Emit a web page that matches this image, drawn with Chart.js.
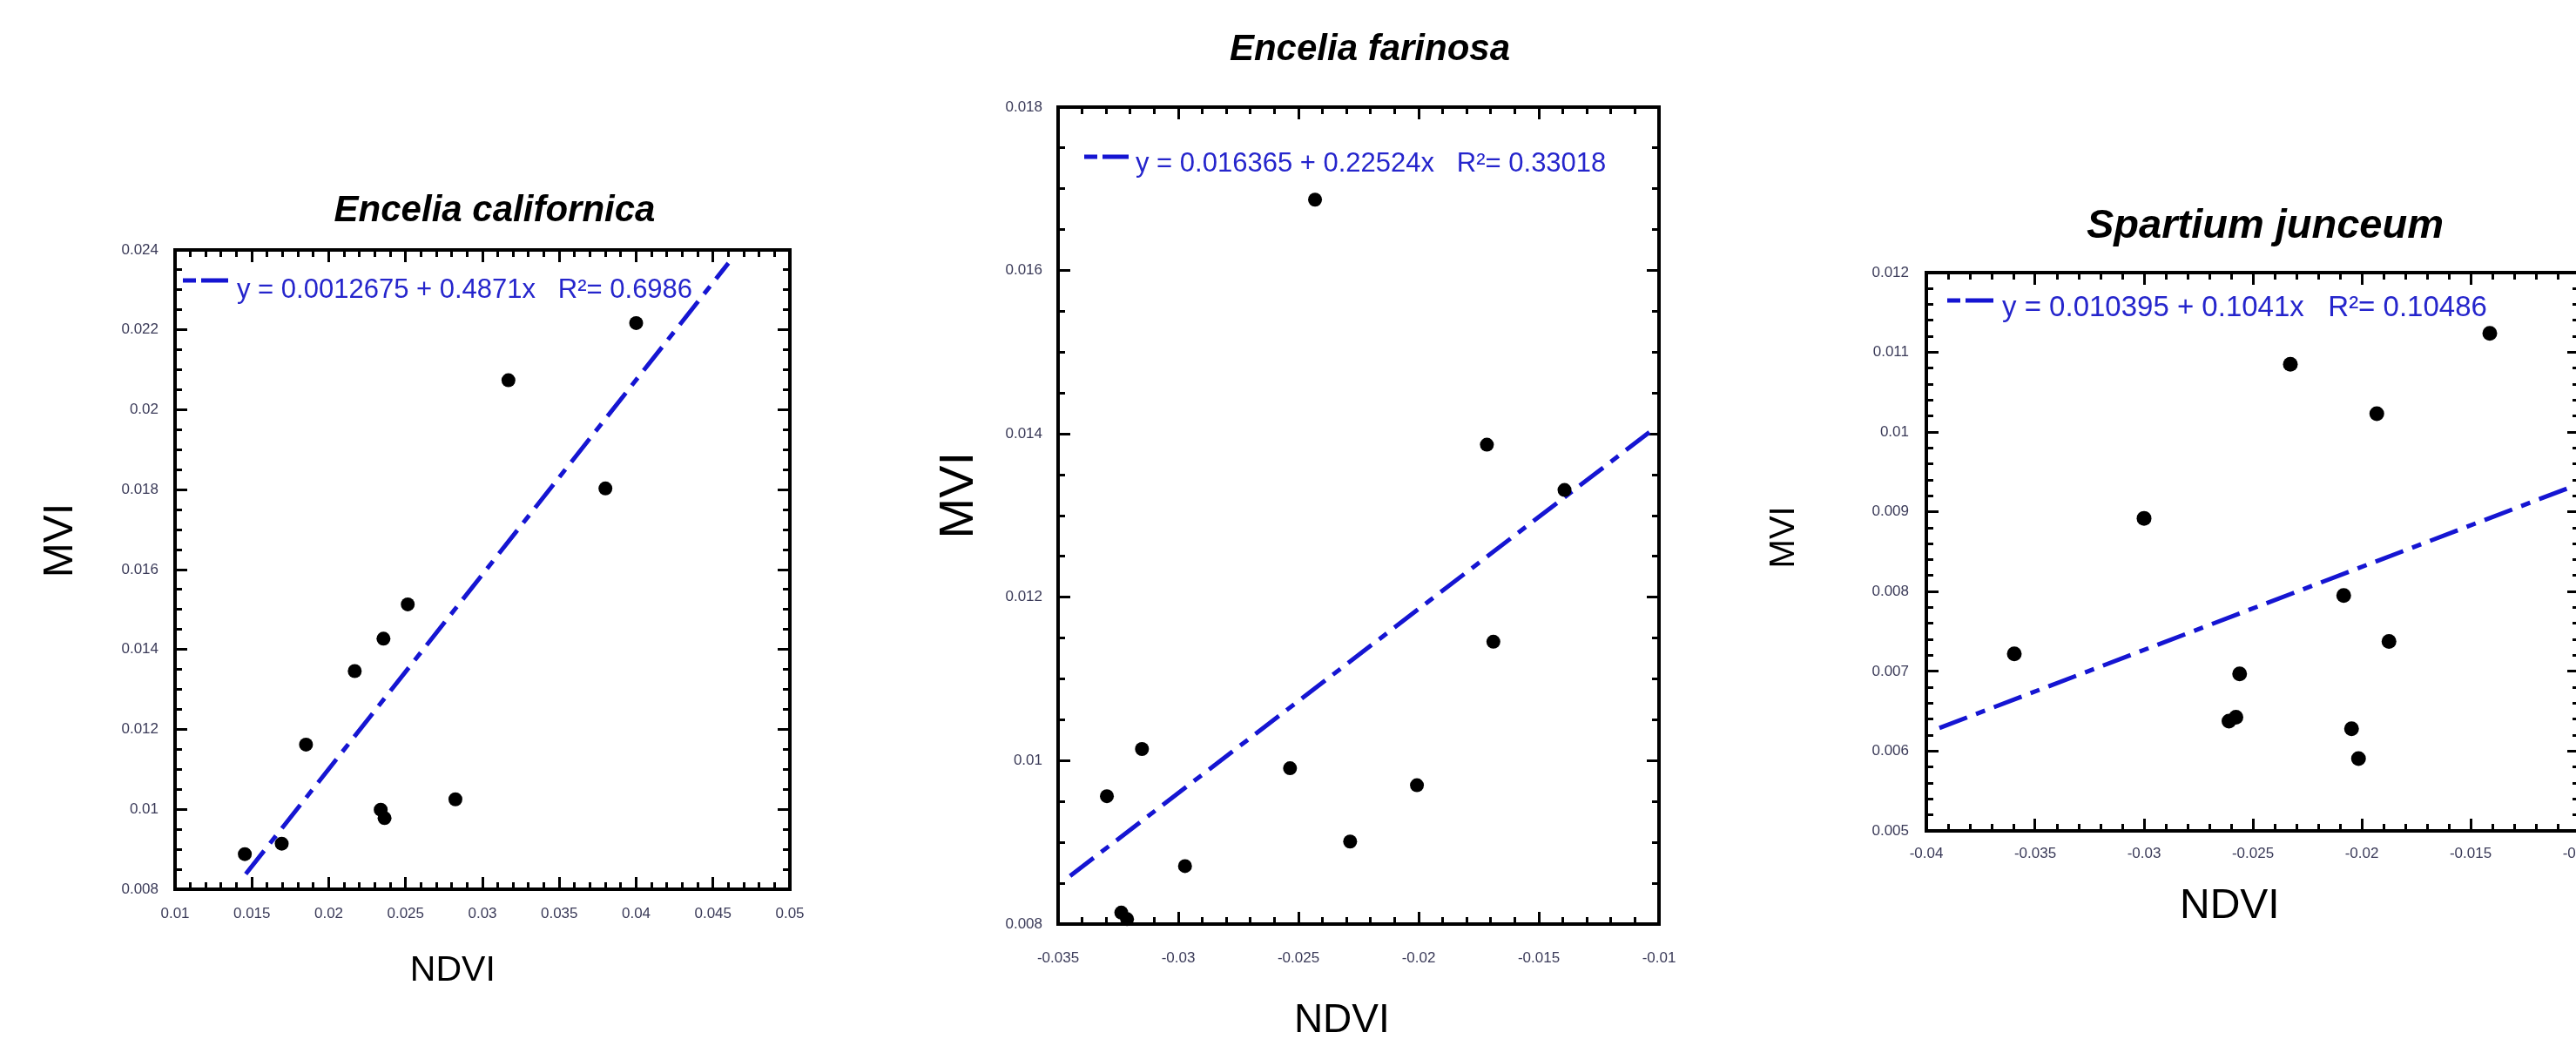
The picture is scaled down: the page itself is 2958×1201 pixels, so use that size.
<!DOCTYPE html>
<html>
<head>
<meta charset="utf-8">
<title>MVI vs NDVI</title>
<script src="https://cdn.jsdelivr.net/npm/chart.js@4.4.1/dist/chart.umd.min.js"></script>
<style>
  html, body { margin: 0; padding: 0; background: #fff; overflow: hidden; }
  body { width: 2958px; height: 1201px; position: relative; }
  canvas { position: absolute; top: 0; }
</style>
</head>
<body>
<canvas id="c1" width="1136" height="1201" style="left:0px"></canvas>
<canvas id="c2" width="1146" height="1201" style="left:1000px"></canvas>
<canvas id="c3" width="1222" height="1201" style="left:1990px"></canvas>
<script>
// Encelia californica
const calX = [0.01454, 0.01694, 0.01852, 0.02169, 0.02356, 0.02514, 0.02338, 0.02363, 0.02824, 0.03169, 0.0380, 0.0400];
const calY = [0.00888, 0.00914, 0.01162, 0.01346, 0.01427, 0.01513, 0.00999, 0.00978, 0.01025, 0.02074, 0.01803, 0.02217];
const calFitX = [0.0146, 0.046];
const calFitY = [0.00838, 0.02367];
const calXTicks = [0.01, 0.05, 0.005, 0.001];      // min, max, major step, minor step
const calYTicks = [0.008, 0.024, 0.002, 0.0005];

// Encelia farinosa
const farX = [-0.03297, -0.03151, -0.03237, -0.03213, -0.02972, -0.02535, -0.02431, -0.02285, -0.02007, -0.01716, -0.01689, -0.01393];
const farY = [0.009565, 0.010143, 0.00814, 0.00806, 0.00871, 0.009907, 0.016867, 0.00901, 0.0097, 0.013868, 0.011456, 0.013314];
const farFitX = [-0.0345, -0.0104];
const farFitY = [0.00859, 0.01402];
const farXTicks = [-0.035, -0.01, 0.005, 0.001];
const farYTicks = [0.008, 0.018, 0.002, 0.0005];

// Spartium junceum
const spaX = [-0.03596, -0.0300, -0.0261, -0.02578, -0.02561, -0.02328, -0.02083, -0.02047, -0.02015, -0.01931, -0.01875, -0.01412];
const spaY = [0.007219, 0.008919, 0.006375, 0.006425, 0.006969, 0.01085, 0.00795, 0.006281, 0.005906, 0.010231, 0.007375, 0.011238];
const spaFitX = [-0.0394, -0.0104];
const spaFitY = [0.00629, 0.00931];
const spaXTicks = [-0.04, -0.01, 0.005, 0.001];
const spaYTicks = [0.005, 0.012, 0.001, 0.0002];

const FONT = "'Liberation Sans', Arial, Helvetica, sans-serif";
const FIT_BLUE = "#1515d2";
const KEY_BLUE = "#2525cc";
const TICK_COLOR = "#3a3a58";

function tickFormat(v) {
  return String(parseFloat(Number(v).toFixed(4)));
}

// draws the fit equation with a sample of the dash-dot line inside the frame
const fitKey = {
  id: "fitKey",
  afterDatasetsDraw(chart, args, opts) {
    const ds = chart.data.datasets[1];
    const { left, top } = chart.chartArea;
    const ctx = chart.ctx;
    ctx.save();
    ctx.strokeStyle = ds.borderColor;
    ctx.lineWidth = ds.borderWidth;
    ctx.setLineDash([15, 6, 40]);
    ctx.beginPath();
    ctx.moveTo(left + opts.lineX[0], top + opts.lineY);
    ctx.lineTo(left + opts.lineX[1], top + opts.lineY);
    ctx.stroke();
    ctx.setLineDash([]);
    ctx.fillStyle = KEY_BLUE;
    ctx.font = opts.size + "px " + FONT;
    ctx.textBaseline = "middle";
    ctx.textAlign = "left";
    ctx.fillText(ds.label, left + opts.textX, top + opts.textY);
    ctx.restore();
  }
};

function buildChart(canvasId, p) {
  const pts = p.xs.map((x, i) => ({ x: x, y: p.ys[i] }));
  const fit = p.fitX.map((x, i) => ({ x: x, y: p.fitY[i] }));
  const fixW = w => s => { s.width = w; };
  const fixH = h => s => { s.height = h; };

  // one frame side; major ones carry the border, minor ones only short ticks
  const side = (axis, position, range, major, fitter) => ({
    type: "linear",
    axis: axis,
    position: position,
    min: range[0],
    max: range[1],
    weight: major ? 1 : 0,
    border: { display: major, color: "#000", width: 4 },
    grid: {
      drawOnChartArea: false,
      drawTicks: true,
      tickLength: -(major ? p.majorLen : p.minorLen),
      tickWidth: 3,
      tickColor: "#000"
    },
    ticks: { display: false, stepSize: major ? range[2] : range[3] },
    afterFit: fitter
  });

  const x = side("x", "bottom", p.xRange, true, fixH(p.xAxisH));
  x.ticks = {
    display: true, stepSize: p.xRange[2], autoSkip: false, maxRotation: 0,
    padding: p.xLabelPad, color: TICK_COLOR, font: { family: FONT, size: 17 },
    callback: tickFormat
  };
  x.title = {
    display: true, text: p.xTitle, color: "#000",
    font: { family: FONT, size: p.xTitleSize }, padding: { top: 0, bottom: p.xTitlePad }
  };

  const y = side("y", "left", p.yRange, true, fixW(p.yAxisW));
  y.ticks = {
    display: true, stepSize: p.yRange[2], autoSkip: false,
    padding: p.yLabelPad, color: TICK_COLOR, font: { family: FONT, size: 17 },
    callback: tickFormat
  };
  y.title = {
    display: true, text: p.yTitle, color: "#000",
    font: { family: FONT, size: p.yTitleSize }, padding: { top: p.yTitlePad, bottom: 0 }
  };

  return new Chart(document.getElementById(canvasId), {
    type: "scatter",
    data: {
      datasets: [
        {
          label: "data",
          data: pts,
          xAxisID: "x",
          yAxisID: "y",
          pointRadius: p.pointR,
          pointBackgroundColor: "#000",
          pointBorderWidth: 0,
          clip: false
        },
        {
          label: p.fitLabel,
          data: fit,
          xAxisID: "x",
          yAxisID: "y",
          showLine: true,
          borderColor: FIT_BLUE,
          borderWidth: 5,
          borderDash: [34, 11, 11, 11],
          pointRadius: 0
        }
      ]
    },
    options: {
      responsive: false,
      animation: false,
      events: [],
      devicePixelRatio: 1,
      layout: { padding: 0 },
      scales: {
        x: x,
        x2: side("x", "bottom", p.xRange, false, fixH(0)),
        xt: side("x", "top", p.xRange, true, fixH(0)),
        xt2: side("x", "top", p.xRange, false, fixH(0)),
        y: y,
        y2: side("y", "left", p.yRange, false, fixW(0)),
        yr: side("y", "right", p.yRange, true, fixW(p.rightW)),
        yr2: side("y", "right", p.yRange, false, fixW(0))
      },
      plugins: {
        legend: { display: false },
        tooltip: { enabled: false },
        title: {
          display: true,
          text: p.title,
          color: "#000",
          font: { family: FONT, size: p.titleSize, style: "italic", weight: "bold" },
          padding: { top: p.titlePad[0], bottom: p.titlePad[1] }
        },
        fitKey: p.key
      }
    },
    plugins: [fitKey]
  });
}

buildChart("c1", {
  xs: calX, ys: calY, fitX: calFitX, fitY: calFitY,
  xRange: calXTicks, yRange: calYTicks,
  title: "Encelia californica", titleSize: 42, titlePad: [216.8, 19.8],
  fitLabel: "y = 0.0012675 + 0.4871x   R\u00b2= 0.6986",
  xTitle: "NDVI      ", xTitleSize: 41, xTitlePad: 61.4,
  yTitle: "     MVI", yTitleSize: 48, yTitlePad: 41.2,
  yAxisW: 201, rightW: 229, xAxisH: 180,
  xLabelPad: 31.8, yLabelPad: 33, majorLen: 14, minorLen: 8,
  pointR: 8,
  key: { lineX: [9, 61], lineY: 35, textX: 71, textY: 46, size: 31 }
});

buildChart("c2", {
  xs: farX, ys: farY, fitX: farFitX, fitY: farFitY,
  xRange: farXTicks, yRange: farYTicks,
  title: "Encelia farinosa", titleSize: 42, titlePad: [31.8, 40.8],
  fitLabel: "y = 0.016365 + 0.22524x   R\u00b2= 0.33018",
  xTitle: "NDVI   ", xTitleSize: 46, xTitlePad: 1.4,
  yTitle: "   MVI", yTitleSize: 56, yTitlePad: 68.4,
  yAxisW: 215, rightW: 241, xAxisH: 140,
  xLabelPad: 42.8, yLabelPad: 32, majorLen: 14, minorLen: 8,
  pointR: 8,
  key: { lineX: [30, 81], lineY: 57, textX: 89, textY: 65, size: 31 }
});

buildChart("c3", {
  xs: spaX, ys: spaY, fitX: spaFitX, fitY: spaFitY,
  xRange: spaXTicks, yRange: spaYTicks,
  title: "Spartium junceum", titleSize: 47, titlePad: [231.8, 24.8],
  fitLabel: "y = 0.010395 + 0.1041x   R\u00b2= 0.10486",
  xTitle: "NDVI    ", xTitleSize: 48, xTitlePad: 131.2,
  yTitle: "   MVI", yTitleSize: 40, yTitlePad: 35,
  yAxisW: 222, rightW: 250, xAxisH: 247,
  xLabelPad: 29.8, yLabelPad: 34, majorLen: 14, minorLen: 8,
  pointR: 8.5,
  key: { lineX: [24, 77], lineY: 32, textX: 87, textY: 41, size: 33 }
});
</script>
</body>
</html>
